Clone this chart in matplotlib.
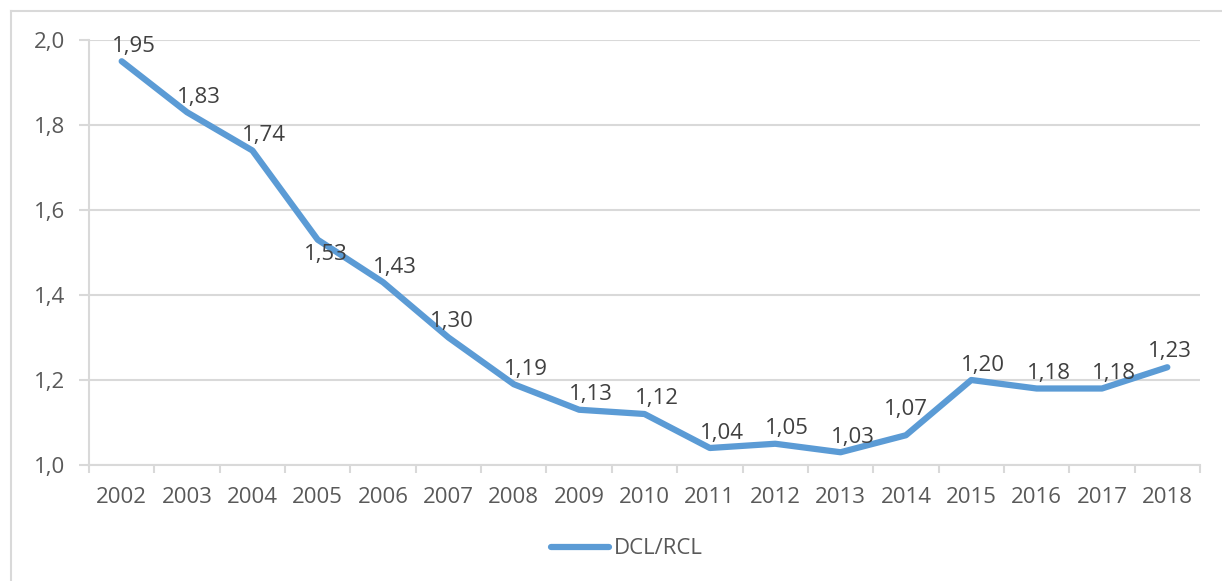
import matplotlib.pyplot as plt
from matplotlib.lines import Line2D

years = ["2002", "2003", "2004", "2005", "2006", "2007", "2008", "2009", "2010",
         "2011", "2012", "2013", "2014", "2015", "2016", "2017", "2018"]
ratio = [1.95, 1.83, 1.74, 1.53, 1.43, 1.30, 1.19, 1.13, 1.12,
         1.04, 1.05, 1.03, 1.07, 1.20, 1.18, 1.18, 1.23]
y_ticks = [1.0, 1.2, 1.4, 1.6, 1.8, 2.0]
series_name = "DCL/RCL"

blue = "#5B9BD5"
grey_text = "#595959"
grid_col = "#D9D9D9"
plt.rcParams['font.family'] = ['Open Sans', 'DejaVu Sans']

fig = plt.figure(figsize=(12.22, 5.81), dpi=100)
ax = fig.add_axes([89 / 1222, 116 / 581, (1200 - 89) / 1222, (465 - 40) / 581])

x = list(range(len(years)))
ax.plot(x, ratio, color=blue, linewidth=4.5, solid_joinstyle='round',
        solid_capstyle='round', zorder=3)

# data labels, mostly up-right of each point like Excel
for i, v in enumerate(ratio):
    dx, dy = 12, 15
    if years[i] == "2005":
        dx, dy = 8, -15
    elif years[i] == "2014":
        dx, dy = 0, 26
    elif years[i] in ("2007", "2018"):
        dx, dy = 3, 16
    ax.annotate(f"{v:.2f}".replace(".", ","), (i, v), xytext=(dx, dy),
                textcoords='offset pixels', ha='center', va='center',
                fontsize=16, color="#404040", zorder=4)

ax.set_xlim(-0.5, len(years) - 0.5)
ax.set_ylim(1.0, 2.0)
ax.set_yticks(y_ticks)
ax.set_yticklabels([f"{t:.1f}".replace(".", ",") for t in y_ticks])
ax.set_xticks(x)
ax.set_xticklabels(years)
ax.set_xticks([i - 0.5 for i in range(len(years) + 1)], minor=True)

ax.tick_params(axis='x', which='major', length=0, pad=16, labelsize=16, labelcolor=grey_text)
ax.tick_params(axis='x', which='minor', length=6, width=1.5, color=grid_col, direction='out')
ax.tick_params(axis='y', length=7, width=1.5, color=grid_col, pad=10,
               labelsize=16, labelcolor=grey_text)

ax.grid(axis='y', color=grid_col, linewidth=1.5, zorder=0)
ax.set_axisbelow(True)
for side in ['top', 'right']:
    ax.spines[side].set_visible(False)
for side in ['left', 'bottom']:
    ax.spines[side].set_color(grid_col)
    ax.spines[side].set_linewidth(1.5)

handle = Line2D([], [], color=blue, linewidth=4.5, solid_capstyle='round')
fig.legend([handle], [series_name], loc='center', bbox_to_anchor=(627 / 1222, 1 - 549 / 581),
           frameon=False, fontsize=16, labelcolor=grey_text, handlelength=2.6,
           handletextpad=0.25)

# chart border (only top and left edges visible in the picture)
fig.add_artist(Line2D([11 / 1222, 11 / 1222], [0, 1 - 11 / 581], transform=fig.transFigure,
                      color=grid_col, linewidth=1.5))
fig.add_artist(Line2D([11 / 1222, 1], [1 - 11 / 581, 1 - 11 / 581], transform=fig.transFigure,
                      color=grid_col, linewidth=1.5))

fig.savefig("out.png", dpi=100)
